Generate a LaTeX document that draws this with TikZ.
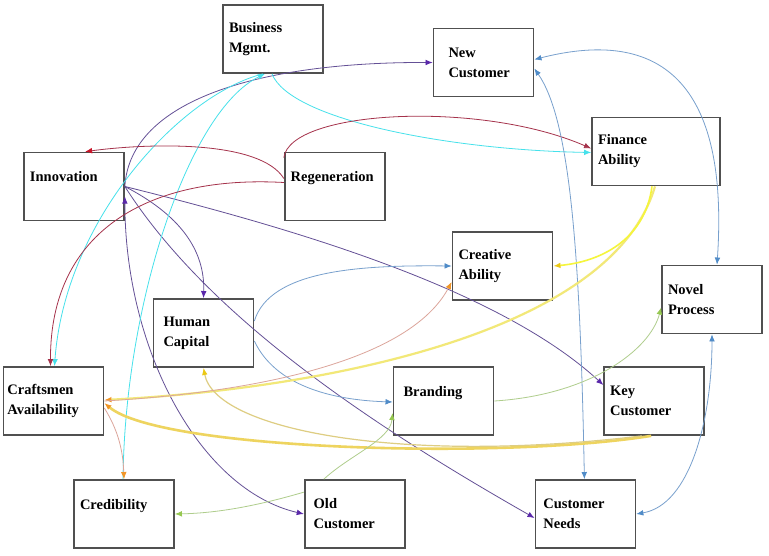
\documentclass[tikz,border=0pt]{standalone}
\usepackage{fontspec}
\setmainfont{Liberation Serif}
\usepackage{xcolor}
\usepackage{tikz}
\usetikzlibrary{arrows.meta,positioning}

\definecolor{boxline}{RGB}{80,80,80}
\definecolor{lnpurple}{RGB}{100,80,150}
\definecolor{tippurple}{RGB}{90,40,170}
\definecolor{lncyan}{RGB}{70,225,235}
\definecolor{lnred}{RGB}{165,50,75}
\definecolor{tipred}{RGB}{200,20,40}
\definecolor{lnblue}{RGB}{120,160,205}
\definecolor{tipblue}{RGB}{80,140,200}
\definecolor{lnyellow}{RGB}{245,245,60}
\definecolor{lnpale}{RGB}{242,232,120}
\definecolor{lngold}{RGB}{238,212,95}
\definecolor{lnkhaki}{RGB}{222,205,130}
\definecolor{tipyellow}{RGB}{235,200,20}
\definecolor{lngreen}{RGB}{175,205,140}
\definecolor{tipgreen}{RGB}{150,200,80}
\definecolor{lnsalmon}{RGB}{220,165,155}
\definecolor{tiporange}{RGB}{240,150,40}

\begin{document}
\begin{tikzpicture}[
    x=1pt, y=-1pt,
    factor/.style={draw=boxline, line width=1.7pt, minimum width=100pt, minimum height=68pt, text width=88pt, inner xsep=6pt, align=left, font=\fontsize{14.5}{20}\selectfont\bfseries},
    link/.style={-{Latex[length=2.5mm,width=2mm]}, line width=0.8pt},
    both/.style={{Latex[length=2.5mm,width=2mm,color=#1]}-{Latex[length=2.5mm,width=2mm,color=#1]}, line width=0.8pt},
    headcol/.style={-{Latex[length=2.5mm,width=2mm,color=#1]}}
]
\path[use as bounding box, fill=white] (0,0) rectangle (769,556);

\node[factor] (busmgmt) at (273,39) {Business\\Mgmt.};
\node[factor, inner xsep=15pt, text width=70pt] (newcust) at (483.5,62.5) {New\\Customer};
\node[factor, minimum width=128pt, text width=116pt] (finance) at (656,151.5) {Finance\\Ability};
\node[factor] (innov) at (74,186.5) {Innovation\\\mbox{}};
\node[factor, right=159pt of innov] (regen) {Regeneration\\\mbox{}};
\node[factor] (creative) at (502.5,266) {Creative\\Ability};
\node[factor] (novel) at (712,299.5) {Novel\\Process};
\node[factor, inner xsep=10pt, text width=80pt] (human) at (203.5,333) {Human\\Capital};
\node[factor, inner xsep=4pt, text width=92pt] (crafts) at (53.5,401) {Craftsmen\\Availability};
\node[factor, inner xsep=10pt, text width=80pt] (branding) at (443.5,401) {Branding\\\mbox{}};
\node[factor, right=109pt of branding] (keycust) {Key\\Customer};
\node[factor] (cred) at (124,514) {Credibility\\\mbox{}};
\node[factor, inner xsep=9pt, text width=82pt, right=129pt of cred] (oldcust) {Old\\Customer};
\node[factor, inner xsep=8pt, text width=84pt, right=129pt of oldcust] (custneeds) {Customer\\Needs};

% innovation links
\draw[link, draw=lnpurple, headcol=tippurple] (innov.east) .. controls (130,100) and (260,62) .. (newcust.west);
\draw[link, draw=lnpurple, headcol=tippurple] (innov.east) .. controls (180,215) and (205,250) .. (human.north);
\draw[link, draw=lnpurple, headcol=tippurple] (innov.east) .. controls (300,230) and (500,290) .. ([yshift=16pt]keycust.west);
\draw[link, draw=lnpurple, headcol=tippurple] (innov.east) .. controls (210,320) and (380,430) .. ([yshift=-4pt]custneeds.west);
\draw[both=tippurple, draw=lnpurple] ([yshift=-10pt]innov.east) .. controls (125,350) and (200,490) .. (oldcust.west);

% business mgmt
\draw[link, draw=lncyan] ([xshift=-10pt]busmgmt.south) .. controls (180,95) and (65,220) .. ([xshift=1pt]crafts.north);
\draw[link, draw=lncyan] ([xshift=-1pt]busmgmt.south) .. controls (290,120) and (450,150) .. ([yshift=-1pt]finance.west);
\draw[link, draw=lncyan] ([xshift=-1pt]cred.north) .. controls (125,300) and (190,110) .. ([xshift=-8pt]busmgmt.south);

% regeneration
\draw[link, draw=lnred, headcol=tipred] ([yshift=8pt]regen.west) .. controls (260,140) and (150,143) .. ([xshift=11pt]innov.north);
\draw[link, draw=lnred] ([yshift=-6pt]regen.north west) .. controls (290,110) and (480,100) .. ([yshift=3pt]finance.west);
\draw[link, draw=lnred] ([yshift=4pt]regen.west) .. controls (150,175) and (50,230) .. ([xshift=-3pt]crafts.north);

% human capital
\draw[link, draw=lnblue, headcol=tipblue] ([yshift=12pt]human.east) .. controls (270,270) and (360,265) .. (creative.west);
\draw[link, draw=lnblue, headcol=tipblue] ([yshift=-8pt]human.east) .. controls (275,385) and (330,400) .. ([yshift=-1pt]branding.west);

% customers
\draw[both=tipblue, draw=lnblue] ([yshift=-6pt]newcust.east) .. controls (570,120) and (580,250) .. ([xshift=-1pt]custneeds.north);
\draw[both=tipblue, draw=lnblue] ([yshift=3pt]newcust.east) .. controls (650,30) and (730,70) .. ([xshift=5pt]novel.north);
\draw[both=tipblue, draw=lnblue] (novel.south) .. controls (712,420) and (690,505) .. (custneeds.east);

% finance and key customer
\draw[link, draw=lnpale, line width=2.2pt, headcol=tiporange] ([xshift=-1pt]finance.south) .. controls (610,340) and (300,390) .. ([yshift=1pt]crafts.east);
\draw[link, draw=lnyellow, line width=1.6pt, headcol=tipyellow] ([xshift=-4pt]finance.south) .. controls (645,240) and (600,262) .. (creative.east);
\draw[link, draw=lngold, line width=2.6pt, headcol=tiporange] ([xshift=-3pt]keycust.south) .. controls (500,460) and (160,450) .. ([yshift=-2pt]crafts.east);
\draw[link, draw=lnkhaki, line width=1.2pt, headcol=tipyellow] ([xshift=-12pt]keycust.south) .. controls (400,465) and (215,430) .. (human.south);

% craftsmen
\draw[link, draw=lnsalmon, headcol=tiporange] ([yshift=-7pt]crafts.east) .. controls (118,430) and (123,450) .. (cred.north);
\draw[link, draw=lnsalmon, headcol=tiporange] (crafts.east) .. controls (260,392) and (410,360) .. ([yshift=-16pt]creative.west);

% branding and old customer
\draw[link, draw=lngreen, headcol=tipgreen] (branding.east) .. controls (590,395) and (650,350) .. ([yshift=-8pt]novel.west);
\draw[link, draw=lngreen, headcol=tipgreen] ([yshift=-13pt]oldcust.north west) .. controls (260,505) and (220,513) .. (cred.east);
\draw[link, draw=lngreen, headcol=tipgreen] ([xshift=20pt]oldcust.north west) .. controls (350,455) and (390,440) .. ([yshift=-12pt]branding.west);
\end{tikzpicture}
\end{document}
